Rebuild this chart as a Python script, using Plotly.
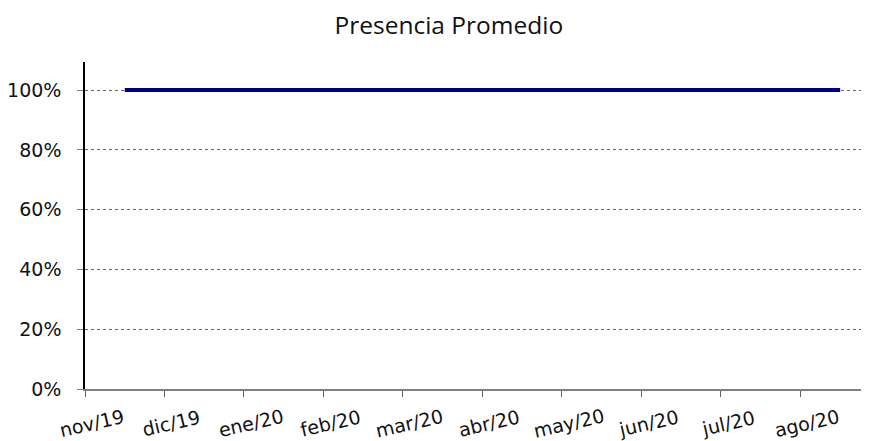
import plotly.graph_objects as go

months = ["nov/19", "dic/19", "ene/20", "feb/20", "mar/20",
          "abr/20", "may/20", "jun/20", "jul/20", "ago/20"]
presence = [1.0, 1.0, 1.0, 1.0, 1.0, 1.0, 1.0, 1.0, 1.0, 1.0]
y_ticks = [0, 0.2, 0.4, 0.6, 0.8, 1.0]

font = dict(family="Verdana, DejaVu Sans, sans-serif", size=19, color="#111111")

# points sit in the middle of each month slot
x = [i + 0.5 for i in range(len(months))]

fig = go.Figure()
fig.add_trace(go.Scatter(
    x=x, y=presence, mode="lines",
    line=dict(color="#000080", width=4),
    showlegend=False,
))
# rotated month labels, centred just right of their tick
for i, m in enumerate(months):
    fig.add_annotation(
        x=i, y=0, xref="x", yref="paper", text=m, showarrow=False,
        textangle=-13, yanchor="middle", yshift=-34, xshift=7,
        font=font,
    )
# page body adds an 8px offset, so the figure is 8px smaller than the window
fig.update_layout(
    width=861, height=433,
    margin=dict(l=77, r=1, t=54, b=52),
    paper_bgcolor="white", plot_bgcolor="white",
    font=font,
    title=dict(text="Presencia Promedio", x=0.512, xanchor="center",
               y=1 - 17 / 433, yanchor="middle",
               font=dict(family="Open Sans, sans-serif", size=24.5, color="#111111")),
)
fig.update_xaxes(
    range=[0, 9.85], tickvals=list(range(len(months))), showticklabels=False,
    showgrid=False, zeroline=False, automargin=False,
    showline=True, linecolor="#808080", linewidth=1.5,
    ticks="outside", ticklen=6, tickcolor="#606060",
)
fig.update_yaxes(
    range=[0, 1.094], tickvals=y_ticks, tickformat=".0%",
    showgrid=True, gridcolor="#666666", griddash="dot", gridwidth=1,
    zeroline=False, showline=True, linecolor="black", linewidth=1.5,
    ticks="outside", ticklen=6, tickcolor="#808080", automargin=False,
    ticklabelstandoff=12,
)
fig.write_html("out.html")
